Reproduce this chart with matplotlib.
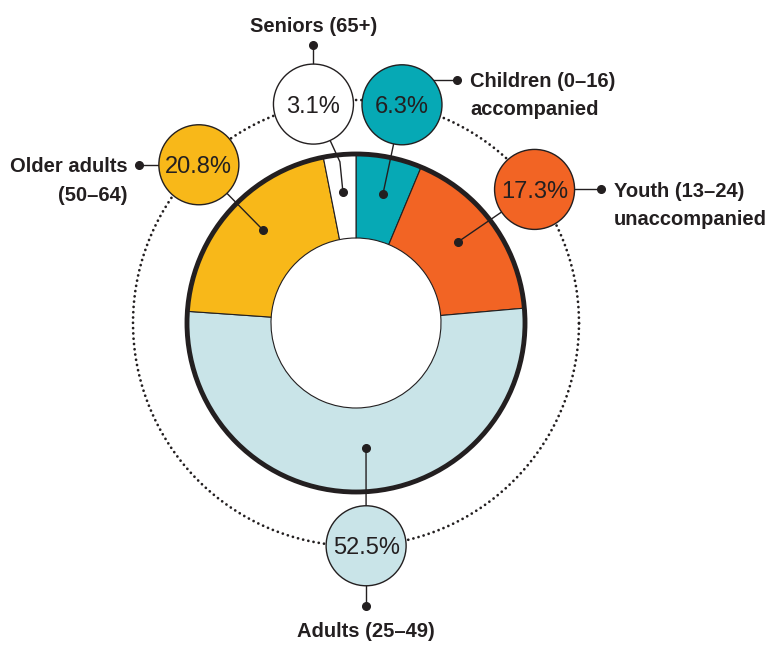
import numpy as np
import matplotlib
matplotlib.use("Agg")
import matplotlib.pyplot as plt
from matplotlib import font_manager
from matplotlib.patches import Circle

# ---- data ----
categories = ["Children (0\u201316)\naccompanied", "Youth (13\u201324)\nunaccompanied",
              "Adults (25\u201349)", "Older adults\n(50\u201364)", "Seniors (65+)"]
shares = [6.3, 17.3, 52.5, 20.8, 3.1]
pct_labels = ["6.3%", "17.3%", "52.5%", "20.8%", "3.1%"]
colors = ["#06a9b5", "#f26424", "#c9e4e8", "#f8b819", "#ffffff"]

# ---- styling / layout ----
names = {f.name for f in font_manager.fontManager.ttflist}
narrow = "Liberation Sans Narrow" if "Liberation Sans Narrow" in names else "Liberation Sans"
fam = [narrow, "DejaVu Sans"]
dark = "#231f20"

W, H = 769, 645
fig = plt.figure(figsize=(W / 100, H / 100), dpi=100)
ax = fig.add_axes([0, 0, 1, 1])

cx, cy = 356, 645 - 323
r_out, r_in = 170, 85
ring_r = 223
bub_r = 40

# dotted guide circle
t = np.linspace(0, 2 * np.pi, 721)
ax.plot(cx + ring_r * np.cos(t), cy + ring_r * np.sin(t), color=dark, lw=2.0,
        linestyle=(0, (0.01, 1.9)), dash_capstyle="round", zorder=1)

wedges, _ = ax.pie(shares, colors=colors, startangle=90, counterclock=False,
                   center=(cx, cy), radius=r_out, frame=True,
                   wedgeprops=dict(width=r_out - r_in, edgecolor=dark, linewidth=0.8))
for w in wedges:
    w.set_zorder(2)
ax.set_xlim(0, W)
ax.set_ylim(0, H)
ax.set_aspect("equal")
ax.axis("off")

ax.add_patch(Circle((cx, cy), r_out - 1, fill=False, edgecolor=dark, lw=3.5, zorder=3))

# bubble angles (deg), dot angles/radii, elbow
bub_ang = [78.1, 36.8, -87.4, 134.8, 101.0]
dot_ang = [78.2, 38.5, -85.4, 135.0, 95.7]
dot_rad = [132, 130, 125, 131, 132]
elbow_r = [None, None, None, None, 162]
# label dot offsets from bubble center and text placement
lab_off = [(55, 25), (66.5, 0), (0, -60), (-60, 0), (0, 59)]
lab_mode = ["right", "right", "down", "left", "up"]

for i in range(len(shares)):
    a = np.radians(bub_ang[i])
    bx, by = cx + ring_r * np.cos(a), cy + ring_r * np.sin(a)
    da = np.radians(dot_ang[i])
    dx, dy = cx + dot_rad[i] * np.cos(da), cy + dot_rad[i] * np.sin(da)
    if elbow_r[i]:
        ex, ey = cx + elbow_r[i] * np.cos(da), cy + elbow_r[i] * np.sin(da)
        ax.plot([bx, ex, dx], [by, ey, dy], color=dark, lw=1.0, zorder=4)
    else:
        ax.plot([bx, dx], [by, dy], color=dark, lw=1.0, zorder=4)
    ax.plot(dx, dy, "o", color=dark, ms=5.5, zorder=4)

    # label connector
    ox, oy = lab_off[i]
    lx, ly = bx + ox, by + oy
    if lab_mode[i] in ("right", "left"):
        ax.plot([bx, lx], [ly, ly], color=dark, lw=1.0, zorder=4)
    else:
        ax.plot([bx, bx], [by, ly], color=dark, lw=1.0, zorder=4)
    ax.plot(lx, ly, "o", color=dark, ms=5.5, zorder=4)

    ax.add_patch(Circle((bx, by), bub_r, facecolor=colors[i], edgecolor=dark, lw=1.0, zorder=5))
    ax.text(bx, by, pct_labels[i], ha="center", va="center_baseline", fontsize=17,
            family=fam, color=dark, zorder=6)

    lines = categories[i].split("\n")
    for k, line in enumerate(lines):
        if lab_mode[i] == "right":
            ax.text(lx + 13, ly - 28 * k, line, ha="left", va="center_baseline",
                    fontsize=14.5, fontweight="bold", family=fam, color=dark)
        elif lab_mode[i] == "left":
            ax.text(lx - 11, ly - 29 * k, line, ha="right", va="center_baseline",
                    fontsize=14.5, fontweight="bold", family=fam, color=dark)
        elif lab_mode[i] == "up":
            ax.text(lx, ly + 21, line, ha="center", va="center_baseline",
                    fontsize=14.5, fontweight="bold", family=fam, color=dark)
        else:
            ax.text(lx, ly - 24, line, ha="center", va="center_baseline",
                    fontsize=14.5, fontweight="bold", family=fam, color=dark)

fig.savefig("out.png", dpi=100)
